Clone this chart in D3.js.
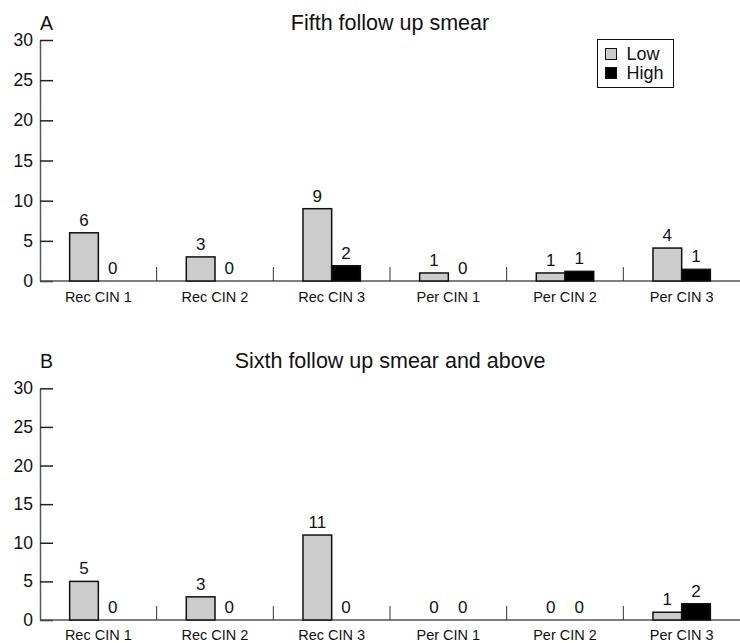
<!DOCTYPE html>
<html><head><meta charset="utf-8">
<script src="https://cdn.jsdelivr.net/npm/d3@7"></script>
<style>
body{margin:0;background:#fff;}
svg{display:block;font-family:"Liberation Sans",Arial,Helvetica,sans-serif;}
</style></head><body>
<svg id="c" width="740" height="643"></svg>
<script>
const categories = ["Rec CIN 1","Rec CIN 2","Rec CIN 3","Per CIN 1","Per CIN 2","Per CIN 3"];
const seriesNames = ["Low","High"];
const yTicks = [0,5,10,15,20,25,30];
// Panel A: Fifth follow up smear
const aLowLabels  = [6,3,9,1,1,4];
const aHighLabels = [0,0,2,0,1,1];
const aLowBars    = [6,3,9,1,1,4.1];
const aHighBars   = [0,0,1.9,0,1.2,1.45];
// Panel B: Sixth follow up smear and above
const bLowLabels  = [5,3,11,0,0,1];
const bHighLabels = [0,0,0,0,0,2];
const bLowBars    = [5,3,11,0,0,1];
const bHighBars   = [0,0,0,0,0,2.1];

const svg = d3.select("#c");
const colors = {Low:"#cccccc", High:"#000000"};

function panel(o){
  const g = svg.append("g");
  const y = d3.scaleLinear().domain([0,30]).range([o.base,o.top]);
  const x = d3.scaleBand().domain(categories).range([40,740]).paddingInner(0).paddingOuter(0);
  const bw = x.bandwidth();
  const xs = d3.scaleBand().domain(seriesNames).range([bw/2-28.7,bw/2+28.7]).padding(0);

  // y axis
  const ya = g.append("g").attr("transform",`translate(40,0)`)
    .call(d3.axisLeft(y).tickValues(yTicks).tickSizeInner(-13).tickSizeOuter(0).tickPadding(7));
  ya.select(".domain").attr("stroke","#555").attr("stroke-width",1.5);
  ya.selectAll(".tick line").attr("stroke","#222").attr("stroke-width",1.5);
  ya.selectAll(".tick text").attr("font-size",17.5).attr("fill","#111").attr("font-family","Liberation Sans, Arial, sans-serif");

  // baseline
  g.append("line").attr("x1",40).attr("x2",740).attr("y1",y(0)).attr("y2",y(0))
    .attr("stroke","#555").attr("stroke-width",1.5);
  // separators
  g.selectAll(".sep").data(categories.slice(1)).enter().append("line")
    .attr("x1",d=>x(d)).attr("x2",d=>x(d)).attr("y1",y(0)).attr("y2",y(0)-14)
    .attr("stroke","#333").attr("stroke-width",1);

  // category labels
  g.selectAll(".cl").data(categories).enter().append("text")
    .attr("x",d=>x(d)+bw/2).attr("y",y(0)+o.labOff).attr("text-anchor","middle")
    .attr("font-size",14.5).attr("fill","#111").text(d=>d);

  const rows = [];
  categories.forEach((c,i)=>{
    rows.push({c,s:"Low",h:o.lowBars[i],lab:o.lowLabels[i]});
    rows.push({c,s:"High",h:o.highBars[i],lab:o.highLabels[i]});
  });
  g.selectAll(".bar").data(rows.filter(r=>r.h>0)).enter().append("rect")
    .attr("x",r=>x(r.c)+xs(r.s)).attr("width",xs.bandwidth())
    .attr("y",r=>y(r.h)).attr("height",r=>y(0)-y(r.h))
    .attr("fill",r=>colors[r.s]).attr("stroke","#111").attr("stroke-width",1.5);
  g.selectAll(".vl").data(rows).enter().append("text")
    .attr("x",r=>x(r.c)+xs(r.s)+xs.bandwidth()/2).attr("y",r=>y(r.h)-7)
    .attr("text-anchor","middle").attr("font-size",17).attr("fill","#111").text(r=>r.lab);

  // letter & title
  g.append("text").attr("x",40).attr("y",o.titleY).attr("font-size",19.5).attr("fill","#111").text(o.letter);
  g.append("text").attr("x",390).attr("y",o.titleY).attr("text-anchor","middle").attr("font-size",21.5).attr("fill","#111").text(o.title);

  if(o.legend){
    const lg = g.append("g");
    lg.append("rect").attr("x",597.5).attr("y",39.5).attr("width",76).attr("height",48)
      .attr("fill","#fff").attr("stroke","#111").attr("stroke-width",1);
    seriesNames.forEach((s,i)=>{
      lg.append("rect").attr("x",605.5).attr("y",48.5+i*19).attr("width",11).attr("height",11)
        .attr("fill",colors[s]).attr("stroke","#111").attr("stroke-width",1);
      lg.append("text").attr("x",626.5).attr("y",60+i*19).attr("font-size",18).attr("fill","#111").text(s);
    });
  }
}

panel({top:40,base:281,labOff:21,titleY:30,letter:"A",title:"Fifth follow up smear",
  lowBars:aLowBars,highBars:aHighBars,lowLabels:aLowLabels,highLabels:aHighLabels,legend:true});
panel({top:388.3,base:620,labOff:20,titleY:368.3,letter:"B",title:"Sixth follow up smear and above",
  lowBars:bLowBars,highBars:bHighBars,lowLabels:bLowLabels,highLabels:bHighLabels,legend:false});
</script></body></html>
